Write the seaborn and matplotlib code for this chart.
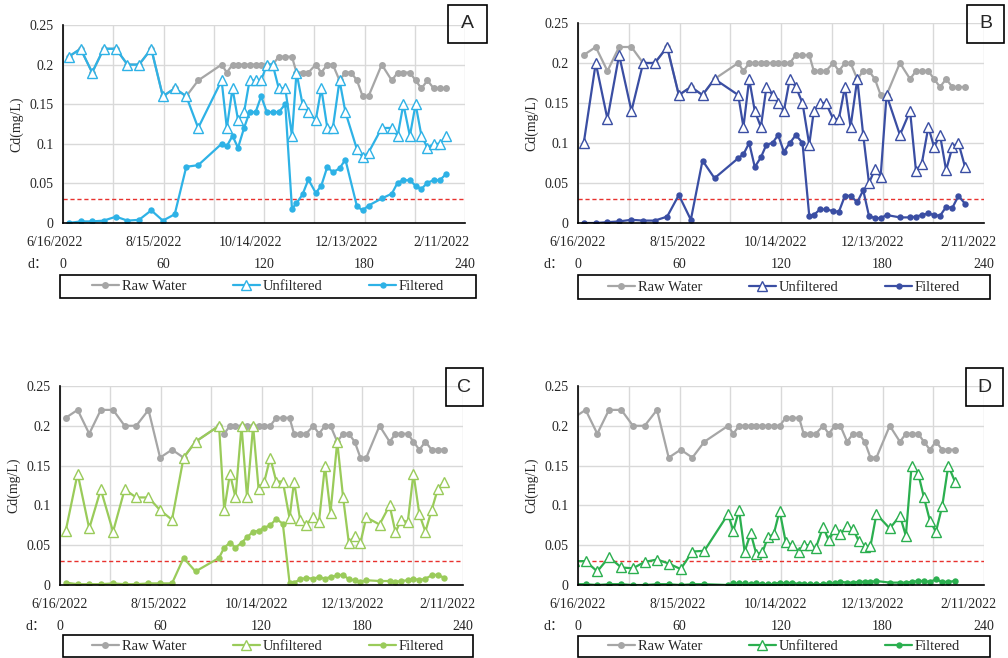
import matplotlib.pyplot as plt
from matplotlib.patches import Rectangle
import numpy as np
import pandas as pd
import seaborn as sns

sns.set_style('white')
plt.rcParams['font.family'] = ['Liberation Serif', 'Noto Sans CJK SC']

# sampling days (shared by all four panels)
days = [3.4, 10.5, 17.4, 24.3, 31.6, 38.5, 45.4, 52.7, 59.6, 66.7, 73.6, 80.7,
        94.7, 97.8, 101.2, 104.5, 108.1, 111.4, 115.0, 118.3, 121.7, 125.2,
        128.8, 132.7, 136.7, 139.4, 143.0, 146.5, 150.9, 154.2, 157.8, 161.1,
        165.1, 168.6, 172.0, 175.5, 178.9, 182.4, 190.3, 196.3, 199.8, 203.2,
        207.1, 210.5, 214.0, 217.6, 221.3, 224.9, 228.8]

raw_water = [0.21, 0.22, 0.19, 0.22, 0.22, 0.20, 0.20, 0.22, 0.16, 0.17, 0.16, 0.18,
             0.20, 0.19, 0.20, 0.20, 0.20, 0.20, 0.20, 0.20, 0.20, 0.20,
             0.21, 0.21, 0.21, 0.19, 0.19, 0.19, 0.20, 0.19, 0.20, 0.20,
             0.18, 0.19, 0.19, 0.18, 0.16, 0.16, 0.20, 0.18, 0.19, 0.19,
             0.19, 0.18, 0.17, 0.18, 0.17, 0.17, 0.17]

unfiltered_a = [0.21, 0.22, 0.19, 0.22, 0.22, 0.20, 0.20, 0.22, 0.16, 0.17, 0.16, 0.12,
                0.18, 0.12, 0.17, 0.13, 0.14, 0.18, 0.18, 0.18, 0.20, 0.20,
                0.17, 0.17, 0.11, 0.19, 0.15, 0.14, 0.13, 0.17, 0.12, 0.12,
                0.18, 0.14, np.nan, 0.093, 0.083, 0.089, 0.12, 0.12, 0.11, 0.15,
                0.11, 0.15, 0.11, 0.095, 0.10, 0.10, 0.11]
filtered_a = [0.000, 0.002, 0.002, 0.003, 0.008, 0.003, 0.004, 0.016, 0.003, 0.011, 0.071, 0.073,
              0.100, 0.097, 0.110, 0.095, 0.120, 0.140, 0.140, 0.160, 0.140, 0.140,
              0.140, 0.150, 0.018, 0.025, 0.036, 0.055, 0.038, 0.047, 0.071, 0.064,
              0.069, 0.080, np.nan, 0.021, 0.016, 0.022, 0.031, 0.037, 0.051, 0.054,
              0.054, 0.047, 0.043, 0.051, 0.054, 0.054, 0.062]

unfiltered_b = [0.10, 0.20, 0.13, 0.21, 0.14, 0.20, 0.20, 0.22, 0.16, 0.17, 0.16, 0.18,
                0.16, 0.12, 0.18, 0.14, 0.12, 0.17, 0.16, 0.15, 0.14, 0.18,
                0.17, 0.15, 0.098, 0.14, 0.15, 0.15, 0.13, 0.13, 0.17, 0.12,
                0.18, 0.11, 0.05, 0.067, 0.058, 0.16, 0.11, 0.14, 0.065, 0.074,
                0.12, 0.095, 0.11, 0.066, 0.095, 0.10, 0.07]
filtered_b = [0.000, 0.000, 0.001, 0.002, 0.004, 0.003, 0.003, 0.008, 0.035, 0.004, 0.078, 0.056,
              0.081, 0.086, 0.100, 0.070, 0.082, 0.098, 0.100, 0.110, 0.089, 0.100,
              0.110, 0.100, 0.009, 0.010, 0.017, 0.017, 0.015, 0.014, 0.034, 0.034,
              0.026, 0.041, 0.009, 0.006, 0.006, 0.010, 0.007, 0.007, 0.008, 0.010,
              0.012, 0.010, 0.009, 0.020, 0.019, 0.034, 0.024]

unfiltered_c = [0.068, 0.14, 0.071, 0.12, 0.067, 0.12, 0.11, 0.11, 0.094, 0.082, 0.16, 0.18,
                0.20, 0.094, 0.14, 0.11, 0.20, 0.11, 0.20, 0.12, 0.13, 0.16,
                0.13, 0.13, 0.084, 0.13, 0.082, 0.076, 0.085, 0.079, 0.15, 0.091,
                0.18, 0.11, 0.053, 0.061, 0.053, 0.085, 0.076, 0.10, 0.066, 0.082,
                0.079, 0.14, 0.089, 0.067, 0.094, 0.12, 0.13]
filtered_c = [0.003, 0.001, 0.001, 0.001, 0.002, 0.001, 0.001, 0.002, 0.002, 0.002, 0.034, 0.017,
              0.034, 0.047, 0.053, 0.047, 0.053, 0.060, 0.067, 0.068, 0.072, 0.075,
              0.083, 0.077, 0.003, 0.003, 0.007, 0.009, 0.008, 0.010, 0.008, 0.010,
              0.012, 0.013, 0.007, 0.006, 0.004, 0.006, 0.005, 0.005, 0.004, 0.005,
              0.006, 0.008, 0.006, 0.008, 0.012, 0.013, 0.009]

unfiltered_d = [0.030, 0.030, 0.017, 0.035, 0.022, 0.021, 0.029, 0.032, 0.027, 0.020, 0.042, 0.043,
                0.089, 0.068, 0.094, 0.042, 0.065, 0.039, 0.041, 0.060, 0.064, 0.093,
                0.054, 0.050, 0.042, 0.050, 0.050, 0.046, 0.073, 0.056, 0.070, 0.064,
                0.074, 0.070, 0.055, 0.048, 0.049, 0.089, 0.071, 0.087, 0.062, 0.15,
                0.14, 0.11, 0.081, 0.067, 0.099, 0.15, 0.13]
filtered_d = [0.001, 0.001, 0.000, 0.001, 0.001, 0.000, 0.000, 0.001, 0.001, 0.000, 0.001, 0.001,
              0.000, 0.002, 0.002, 0.002, 0.001, 0.002, 0.001, 0.001, 0.001, 0.003,
              0.002, 0.003, 0.001, 0.001, 0.001, 0.001, 0.001, 0.002, 0.002, 0.004,
              0.003, 0.003, 0.004, 0.004, 0.004, 0.005, 0.003, 0.003, 0.003, 0.004,
              0.005, 0.005, 0.004, 0.007, 0.004, 0.004, 0.005]

date_labels = ['6/16/2022', '8/15/2022', '10/14/2022', '12/13/2022', '2/11/2022']
date_pos = [0, 59, 117, 174, 231]
day_ticks = [0, 60, 120, 180, 240]
limit = 0.03

W, H = 1008, 658
# panel: (letter, unfiltered, filtered, colour, day shift, date shift,
#         axes box px (l, t, r, b), letter box px, legend box px)
panels = [
    ('A', unfiltered_a, filtered_a, '#2EB2E6', 0, -5,
     (63, 25, 465, 223), (448, 5, 487, 43), (60, 275, 476, 298)),
    ('B', unfiltered_b, filtered_b, '#3A4EA3', 0, 0,
     (578, 23, 984, 223), (967, 5, 1004, 43), (578, 275, 990, 299)),
    ('C', unfiltered_c, filtered_c, '#9ACB5A', 0, 0,
     (60, 386, 463, 585), (446, 368, 483, 406), (63, 635, 473, 657)),
    ('D', unfiltered_d, filtered_d, '#2BAF4F', -6, 0,
     (578, 386, 984, 585), (966, 368, 1003, 406), (578, 636, 990, 657)),
]

fig = plt.figure(figsize=(W / 100, H / 100), dpi=100)


def fig_box(l, t, r, b):
    return [l / W, 1 - b / H, (r - l) / W, (b - t) / H]


for letter, unf, filt, color, shift, dshift, abox, lbox, gbox in panels:
    ax = fig.add_axes(fig_box(*abox))
    df = pd.DataFrame({'day': np.array(days) + shift, 'raw': raw_water,
                       'unf': unf, 'filt': filt})

    ax.axhline(limit, color='#E8322E', lw=1, ls=(0, (3, 2)), zorder=1)
    sns.lineplot(data=df.dropna(subset=['raw']), x='day', y='raw', ax=ax,
                 color='#A6A6A6', lw=1.6, marker='o', markersize=5,
                 markeredgewidth=0, label='Raw Water')
    sns.lineplot(data=df.dropna(subset=['unf']), x='day', y='unf', ax=ax,
                 color=color, lw=1.6, marker='^', markersize=6.5,
                 markerfacecolor='white', markeredgecolor=color,
                 markeredgewidth=1.0, label='Unfiltered')
    sns.lineplot(data=df.dropna(subset=['filt']), x='day', y='filt', ax=ax,
                 color=color, lw=1.6, marker='o', markersize=4.6,
                 markeredgewidth=0, label='Filtered')

    ax.set_xlim(0, 240)
    ax.set_ylim(0, 0.25)
    ax.set_xticks(range(0, 241, 30))
    ax.set_xticklabels([str(t) if t in day_ticks else '' for t in range(0, 241, 30)],
                       fontsize=10)
    ax.set_yticks([0, 0.05, 0.1, 0.15, 0.2, 0.25])
    ax.set_yticklabels(['0', '0.05', '0.1', '0.15', '0.2', '0.25'], fontsize=10)
    ax.tick_params(axis='x', length=0, pad=25)
    ax.tick_params(axis='y', length=0, pad=7)
    ax.grid(True, color='#D9D9D9', lw=1)
    ax.set_axisbelow(True)
    for side in ['top', 'right']:
        ax.spines[side].set_visible(False)
    for side in ['left', 'bottom']:
        ax.spines[side].set_color('black')
        ax.spines[side].set_linewidth(1.2)
    ax.set_xlabel('')
    ax.set_ylabel('')

    # date row under the plot
    for pos, lab in zip(date_pos, date_labels):
        ax.annotate(lab, xy=(pos + dshift, 0), xycoords=('data', 'axes fraction'),
                    xytext=(0, -19), textcoords='offset pixels',
                    ha='center', va='center', fontsize=10, annotation_clip=False)
    l, t, r, b = abox
    fig.text((l - 35) / W, 1 - (b + 41) / H, 'd：', ha='left', va='center', fontsize=10)
    fig.text((l - 46) / W, 1 - ((t + b) / 2) / H, 'Cd(mg/L)', rotation=90,
             ha='center', va='center', fontsize=10)

    # panel letter box
    x0, y0, x1, y1 = lbox
    fig.add_artist(Rectangle((x0 / W, 1 - y1 / H), (x1 - x0) / W, (y1 - y0) / H,
                             transform=fig.transFigure, fill=False,
                             edgecolor='black', lw=1.2))
    fig.text((x0 + x1) / 2 / W, 1 - (y0 + y1) / 2 / H, letter, ha='center',
             va='center', fontsize=14, family='Liberation Sans')

    # legend box
    x0, y0, x1, y1 = gbox
    fig.add_artist(Rectangle((x0 / W, 1 - y1 / H), (x1 - x0) / W, (y1 - y0) / H,
                             transform=fig.transFigure, fill=False,
                             edgecolor='black', lw=1.2))
    handles, labels = ax.get_legend_handles_labels()
    ax.legend(handles, labels, loc='center', ncol=3, frameon=False,
              bbox_to_anchor=((x0 + x1) / 2 / W, 1 - (y0 + y1) / 2 / H),
              bbox_transform=fig.transFigure, fontsize=10.5, columnspacing=3.2,
              handlelength=1.85, handletextpad=0.2)

fig.savefig('out.png', dpi=100)
